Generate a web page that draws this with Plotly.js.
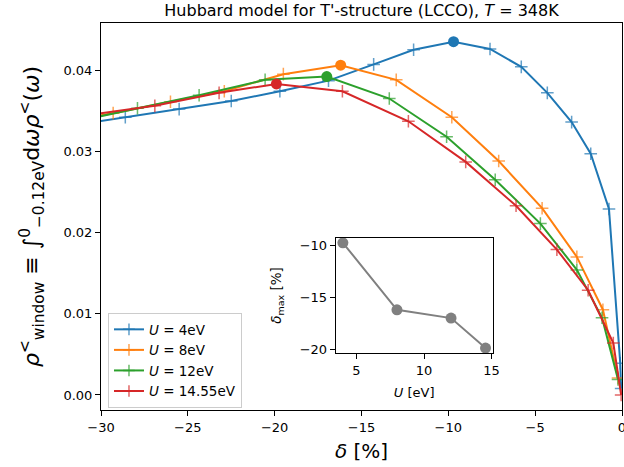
<!DOCTYPE html>
<html>
<head>
<meta charset="utf-8">
<script src="https://cdn.plot.ly/plotly-3.0.1.min.js"></script>
<style>
  html, body { margin: 0; padding: 0; background: #fff; }
  #chart { width: 624px; height: 467px; }
</style>
</head>
<body>
<div id="chart"></div>
<script>
// ---- data ----
const seriesNames = ['<i>U</i> = 4eV', '<i>U</i> = 8eV', '<i>U</i> = 12eV', '<i>U</i> = 14.55eV'];
const seriesColors = ['#1f77b4', '#ff7f0e', '#2ca02c', '#d62728'];

const deltaU4 = [-31.6, -28.6, -25.5, -22.5, -19.7, -16.9, -14.3, -12.0, -9.7, -7.6, -5.8, -4.3, -2.9, -1.8, -0.75, -0.1, -0.05];
const rhoU4   = [0.0332, 0.0342, 0.0352, 0.0362, 0.0374, 0.0387, 0.0407, 0.0425, 0.0435, 0.0426, 0.0404, 0.0372, 0.0336, 0.0297, 0.0229, 0.0039, 0.0008];

const deltaU8 = [-32.6, -29.3, -26.0, -22.9, -19.5, -16.2, -13.0, -9.8, -7.1, -4.6, -2.6, -1.1, -0.23];
const rhoU8   = [0.0334, 0.0347, 0.0361, 0.0374, 0.0395, 0.0406, 0.0388, 0.0342, 0.0288, 0.0230, 0.0170, 0.0105, 0.0021];

const deltaU12 = [-31.4, -27.9, -24.35, -20.55, -17.0, -13.4, -10.1, -7.3, -4.7, -2.6, -1.15, -0.23];
const rhoU12   = [0.0337, 0.0353, 0.0369, 0.0388, 0.0392, 0.0365, 0.0318, 0.0265, 0.0211, 0.0154, 0.0095, 0.0019];

const deltaU1455 = [-30.5, -26.9, -23.2, -19.9, -16.1, -12.3, -9.0, -6.1, -3.75, -1.95, -0.5, -0.05];
const rhoU1455   = [0.03455, 0.0356, 0.0372, 0.0383, 0.0374, 0.0337, 0.0287, 0.0233, 0.0179, 0.0129, 0.0064, 0.0000];

// inset
const insetU = [4, 8, 12, 14.55];
const insetDeltaMax = [-9.7, -16.2, -17.0, -19.9];

const mainYTicks = [0.00, 0.01, 0.02, 0.03, 0.04];
const mainXTicks = [-30, -25, -20, -15, -10, -5, 0];
const insetXTicks = [5, 10, 15];
const insetYTicks = [-20, -15, -10];

// ---- build traces ----
const allX = [deltaU4, deltaU8, deltaU12, deltaU1455];
const allY = [rhoU4, rhoU8, rhoU12, rhoU1455];
const traces = [];
const peaks = [];
for (let i = 0; i < 4; i++) {
  const ys = allY[i];
  let k = 0;
  for (let j = 1; j < ys.length; j++) if (ys[j] > ys[k]) k = j;
  peaks.push(k);
  // hide the cross at the peak (a circle is drawn there instead)
  const sizes = ys.map((v, j) => j === k ? 0 : 9);
  traces.push({
    x: allX[i], y: ys, type: 'scatter', mode: 'lines+markers',
    name: seriesNames[i],
    line: {color: seriesColors[i], width: 2},
    marker: {symbol: 'cross-thin', size: sizes, color: seriesColors[i], line: {width: 1.5, color: seriesColors[i]}}
  });
}
for (let i = 0; i < 4; i++) {
  const k = peaks[i];
  traces.push({
    x: [allX[i][k]], y: [allY[i][k]], type: 'scatter', mode: 'markers',
    showlegend: false, hoverinfo: 'skip',
    marker: {symbol: 'circle', size: 11, color: seriesColors[i]}
  });
}
traces.push({
  x: insetU, y: insetDeltaMax, xaxis: 'x2', yaxis: 'y2',
  type: 'scatter', mode: 'lines+markers', showlegend: false,
  line: {color: '#808080', width: 2},
  marker: {symbol: 'circle', size: 11, color: '#808080'}
});

const font = {family: 'DejaVu Sans, sans-serif', color: '#000'};

const layout = {
  width: 624, height: 467,
  paper_bgcolor: '#fff', plot_bgcolor: '#fff',
  margin: {l: 101, r: 2, t: 23, b: 57, pad: 0},
  font: Object.assign({size: 13}, font),
  title: {
    text: "Hubbard model for T'-structure (LCCO), <i>T</i> = 348K",
    font: Object.assign({size: 16}, font),
    x: 0.5, xref: 'paper', xanchor: 'center',
    y: 0.978, yref: 'container', yanchor: 'middle'
  },
  showlegend: true,
  legend: {
    x: 0.0134, y: 0.005, xanchor: 'left', yanchor: 'bottom',
    bgcolor: '#ffffff', bordercolor: '#cccccc', borderwidth: 1,
    font: Object.assign({size: 13.5}, font),
    tracegroupgap: 0, itemwidth: 30
  },
  xaxis: {
    range: [-30, 0], tickvals: mainXTicks, ticks: 'outside', ticklen: 5, tickwidth: 1,
    tickcolor: '#000', showgrid: false, zeroline: false,
    showline: true, mirror: true, linecolor: '#000', linewidth: 1,
    ticklabeloverflow: 'allow',
    tickfont: Object.assign({size: 13}, font),
    title: {text: '<i>δ</i> [%]', font: Object.assign({size: 20}, font), standoff: 10}
  },
  yaxis: {
    range: [-0.00185, 0.0458], tickvals: mainYTicks, tickformat: '.2f',
    ticks: 'outside', ticklen: 5, tickwidth: 1, tickcolor: '#000',
    showgrid: false, zeroline: false,
    showline: true, mirror: true, linecolor: '#000', linewidth: 1,
    tickfont: Object.assign({size: 13}, font)
  },
  annotations: [{
    text: '<i>ρ</i><sup><</sup><sub>window</sub> ≡ ∫<sup>0</sup><sub>−0.12eV</sub>d<i>ωρ</i><sup><</sup>(<i>ω</i>)',
    font: Object.assign({size: 22}, font),
    textangle: -90, showarrow: false,
    xref: 'paper', yref: 'paper',
    x: (32 - 101) / 521, y: (410 - 217) / 387,
    xanchor: 'center', yanchor: 'middle'
  }],
  xaxis2: {
    domain: [0.4505, 0.7518], anchor: 'y2',
    range: [3.47, 15.08], tickvals: insetXTicks, ticks: 'outside', ticklen: 5, tickwidth: 1,
    tickcolor: '#000', showgrid: false, zeroline: false,
    showline: true, mirror: true, linecolor: '#000', linewidth: 1,
    tickfont: Object.assign({size: 13}, font),
    title: {text: '<i>U</i> [eV]', font: Object.assign({size: 13}, font), standoff: 10}
  },
  yaxis2: {
    domain: [0.1465, 0.4457], anchor: 'x2',
    range: [-20.41, -9.19], tickvals: insetYTicks, ticks: 'outside', ticklen: 5, tickwidth: 1,
    tickcolor: '#000', showgrid: false, zeroline: false,
    showline: true, mirror: true, linecolor: '#000', linewidth: 1,
    tickfont: Object.assign({size: 13}, font),
    title: {text: '<i>δ</i><sub>max</sub> [%]', font: Object.assign({size: 13.5}, font), standoff: 14}
  }
};

Plotly.newPlot('chart', traces, layout, {displayModeBar: false, staticPlot: true});
</script>
</body>
</html>
